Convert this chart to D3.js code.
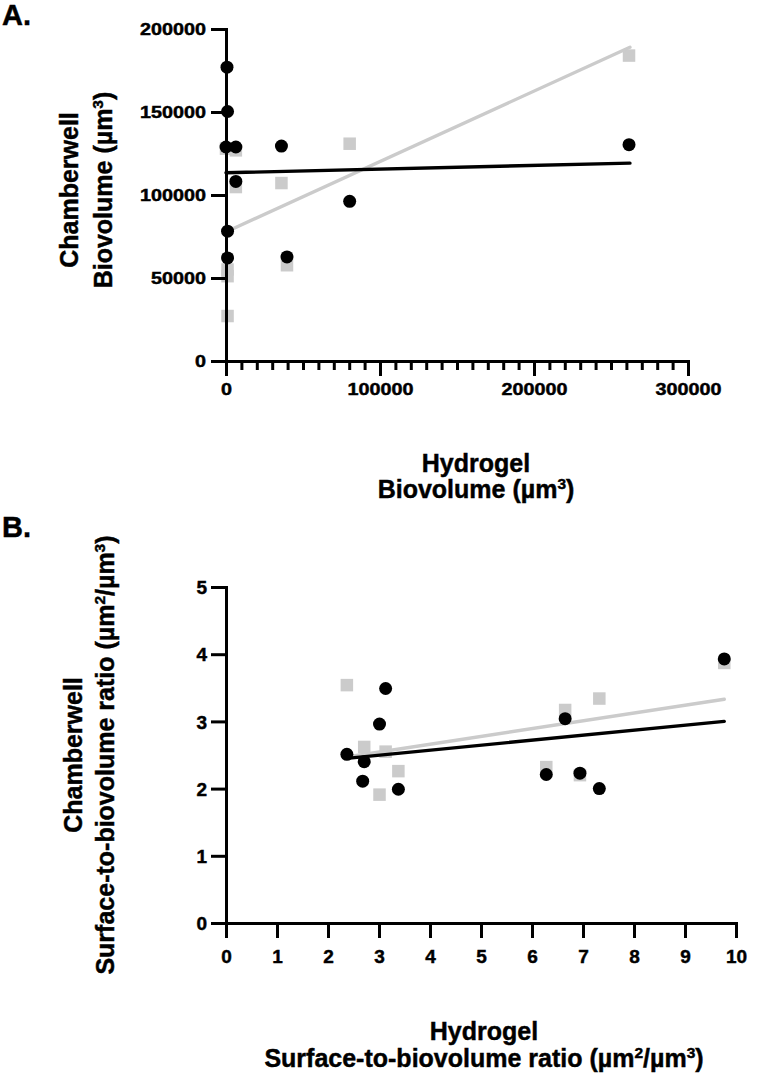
<!DOCTYPE html>
<html>
<head>
<meta charset="utf-8">
<script src="https://cdn.jsdelivr.net/npm/d3@7"></script>
<style>
  html, body { margin: 0; padding: 0; background: #fff; }
  svg { display: block; }
  text { font-family: "Liberation Sans", Arial, Helvetica, sans-serif; font-weight: bold; fill: #000; stroke: #000; stroke-width: 0.45px; }
</style>
</head>
<body>
<svg id="chart" width="762" height="1083"></svg>
<script>
// ---------------- Data: Panel A (Biovolume, µm³) ----------------
const aCircleX = [640, 1000, 0, 6400, 6400, 36000, 39600, 80300, 261700, 1000, 1000];
const aCircleY = [177000, 150300, 128900, 128900, 108200, 129500, 62700, 96200, 130300, 78200, 62100];
const aSquareX = [0, 6400, 6400, 36000, 39600, 80300, 261700, 1000, 1000, 1000];
const aSquareY = [127900, 126900, 104800, 107200, 57700, 130900, 184000, 55100, 51100, 27100];
const aBlackFitX = [0, 262300];
const aBlackFitY = [113400, 119200];
const aGrayFitX = [1000, 262300];
const aGrayFitY = [78200, 189000];
const aXTicks = [0, 100000, 200000, 300000];
const aYTicks = [0, 50000, 100000, 150000, 200000];

// ---------------- Data: Panel B (Surface-to-biovolume ratio) ----------------
const bCircleX = [2.37, 2.71, 2.68, 3.01, 3.13, 3.38, 6.28, 6.65, 6.94, 7.32, 9.77];
const bCircleY = [2.51, 2.40, 2.11, 2.96, 3.49, 1.99, 2.21, 3.04, 2.23, 2.00, 3.93];
const bSquareX = [2.37, 2.71, 3.13, 3.38, 3.01, 6.65, 7.32, 6.28, 6.94, 9.77];
const bSquareY = [3.54, 2.62, 2.55, 2.26, 1.91, 3.17, 3.34, 2.32, 2.20, 3.87];
const bBlackFitX = [2.37, 9.77];
const bBlackFitY = [2.45, 3.00];
const bGrayFitX = [2.37, 9.77];
const bGrayFitY = [2.47, 3.33];
const bXTicks = [0, 1, 2, 3, 4, 5, 6, 7, 8, 9, 10];
const bYTicks = [0, 1, 2, 3, 4, 5];

const GRAY = "#cbcbcb";
const svg = d3.select("#chart");

function drawPanel(cfg) {
  const g = svg.append("g");
  const x = cfg.x, y = cfg.y;

  // squares (gray series)
  const s = cfg.sq;
  g.append("g").selectAll("rect")
    .data(d3.range(cfg.sqX.length))
    .join("rect")
    .attr("x", i => x(cfg.sqX[i]) - s / 2)
    .attr("y", i => y(cfg.sqY[i]) - s / 2)
    .attr("width", s).attr("height", s)
    .attr("fill", GRAY);

  const line = d3.line().x(d => x(d[0])).y(d => y(d[1]));
  g.append("path")
    .attr("d", line(d3.zip(cfg.gFitX, cfg.gFitY)))
    .attr("stroke", GRAY).attr("stroke-width", 3.4).attr("fill", "none").attr("stroke-linecap", "round");
  g.append("path")
    .attr("d", line(d3.zip(cfg.kFitX, cfg.kFitY)))
    .attr("stroke", "#000").attr("stroke-width", 3.4).attr("fill", "none").attr("stroke-linecap", "round");

  // circles (black series)
  g.append("g").selectAll("circle")
    .data(d3.range(cfg.ciX.length))
    .join("circle")
    .attr("cx", i => x(cfg.ciX[i]))
    .attr("cy", i => y(cfg.ciY[i]))
    .attr("r", cfg.r)
    .attr("fill", "#000");

  // axes
  const y0 = y.range()[0];
  const x0 = x.range()[0];

  if (cfg.xMinor) {
    g.append("g")
      .attr("transform", `translate(0,${y0})`)
      .call(d3.axisBottom(x).tickValues(cfg.xMinor).tickSize(cfg.minorLen).tickSizeOuter(0).tickFormat(""))
      .call(a => a.select(".domain").remove())
      .call(a => a.selectAll("line").attr("stroke", "#000").attr("stroke-width", 3));
  }
  const xa = g.append("g")
    .attr("transform", `translate(0,${y0})`)
    .call(d3.axisBottom(x).tickValues(cfg.xTicks).tickSize(cfg.tickLen).tickSizeOuter(0).tickFormat(d3.format("d")));
  const ya = g.append("g")
    .attr("transform", `translate(${x0},0)`)
    .call(d3.axisLeft(y).tickValues(cfg.yTicks).tickSize(cfg.tickLen).tickSizeOuter(0).tickFormat(d3.format("d")));

  [xa, ya].forEach(a => {
    a.select(".domain").attr("stroke", "#000").attr("stroke-width", 3).attr("stroke-linecap", "square");
    a.selectAll(".tick line").attr("stroke", "#000").attr("stroke-width", 3);
    a.selectAll("text").attr("font-size", cfg.tickFont).attr("fill", "#000")
      .attr("font-family", "'Liberation Sans', Arial, sans-serif").attr("font-weight", "bold");
  });
  const sx = cfg.tickScaleX;
  xa.selectAll("text")
    .attr("y", cfg.xLabelBase).attr("dy", null)
    .attr("x", 0)
    .attr("transform", `scale(${sx},1)`);
  ya.selectAll("text")
    .attr("x", -(cfg.tickLen + cfg.yLabelGap) / sx)
    .attr("dy", "0.35em")
    .attr("transform", `scale(${sx},1)`);

  // panel letter
  svg.append("text").attr("x", cfg.letterX).attr("y", cfg.letterY)
    .attr("font-size", 29).text(cfg.letter);

  // y title (rotated, two lines)
  cfg.yTitle.forEach((t, i) => {
    const tx = svg.append("text")
      .attr("transform", `translate(${cfg.yTitleX[i]},${cfg.yTitleY}) rotate(-90)`)
      .attr("text-anchor", "middle").attr("font-size", cfg.titleFont);
    t.forEach(part => {
      const sp = tx.append("tspan").text(part.t);
      if (part.sup) sp.attr("font-size", cfg.titleFont * 0.62).attr("dy", -cfg.titleFont * 0.38);
      else if (part.after) sp.attr("dy", cfg.titleFont * 0.38);
    });
  });
  // x title
  cfg.xTitle.forEach((t, i) => {
    const tx = svg.append("text")
      .attr("x", cfg.xTitleX).attr("y", cfg.xTitleY[i])
      .attr("text-anchor", "middle").attr("font-size", cfg.titleFont);
    t.forEach(part => {
      const sp = tx.append("tspan").text(part.t);
      if (part.sup) sp.attr("font-size", cfg.titleFont * 0.62).attr("dy", -cfg.titleFont * 0.38);
      else if (part.after) sp.attr("dy", cfg.titleFont * 0.38);
    });
  });
}

// Panel A
drawPanel({
  x: d3.scaleLinear().domain([0, 300000]).range([226, 688]),
  y: d3.scaleLinear().domain([0, 200000]).range([361, 29]),
  ciX: aCircleX, ciY: aCircleY, sqX: aSquareX, sqY: aSquareY,
  kFitX: aBlackFitX, kFitY: aBlackFitY, gFitX: aGrayFitX, gFitY: aGrayFitY,
  xTicks: aXTicks, yTicks: aYTicks,
  xMinor: d3.range(0, 300001, 10000).filter(v => v % 100000 !== 0),
  tickLen: 15, minorLen: 9, r: 6.5, sq: 12.5,
  tickFont: 16.5, tickScaleX: 1.2, xLabelBase: 34, yLabelGap: 5,
  letter: "A.", letterX: 2, letterY: 25,
  titleFont: 25,
  yTitle: [[{t: "Chamberwell"}], [{t: "Biovolume (µm"}, {t: "3", sup: true}, {t: ")", after: true}]],
  yTitleX: [78, 112], yTitleY: 190,
  xTitle: [[{t: "Hydrogel"}], [{t: "Biovolume (µm"}, {t: "3", sup: true}, {t: ")", after: true}]],
  xTitleX: 476, xTitleY: [472, 498]
});

// Panel B
drawPanel({
  x: d3.scaleLinear().domain([0, 10]).range([226, 736]),
  y: d3.scaleLinear().domain([0, 5]).range([923, 587]),
  ciX: bCircleX, ciY: bCircleY, sqX: bSquareX, sqY: bSquareY,
  kFitX: bBlackFitX, kFitY: bBlackFitY, gFitX: bGrayFitX, gFitY: bGrayFitY,
  xTicks: bXTicks, yTicks: bYTicks,
  xMinor: null,
  tickLen: 15, minorLen: 9, r: 6.5, sq: 12.5,
  tickFont: 19, tickScaleX: 1.0, xLabelBase: 40, yLabelGap: 4,
  letter: "B.", letterX: 2, letterY: 537,
  titleFont: 25,
  yTitle: [[{t: "Chamberwell"}], [{t: "Surface-to-biovolume ratio (µm"}, {t: "2", sup: true}, {t: "/µm", after: true}, {t: "3", sup: true}, {t: ")", after: true}]],
  yTitleX: [82, 114], yTitleY: 755,
  xTitle: [[{t: "Hydrogel"}], [{t: "Surface-to-biovolume ratio (µm"}, {t: "2", sup: true}, {t: "/µm", after: true}, {t: "3", sup: true}, {t: ")", after: true}]],
  xTitleX: 484, xTitleY: [1040, 1067]
});
</script>
</body>
</html>
